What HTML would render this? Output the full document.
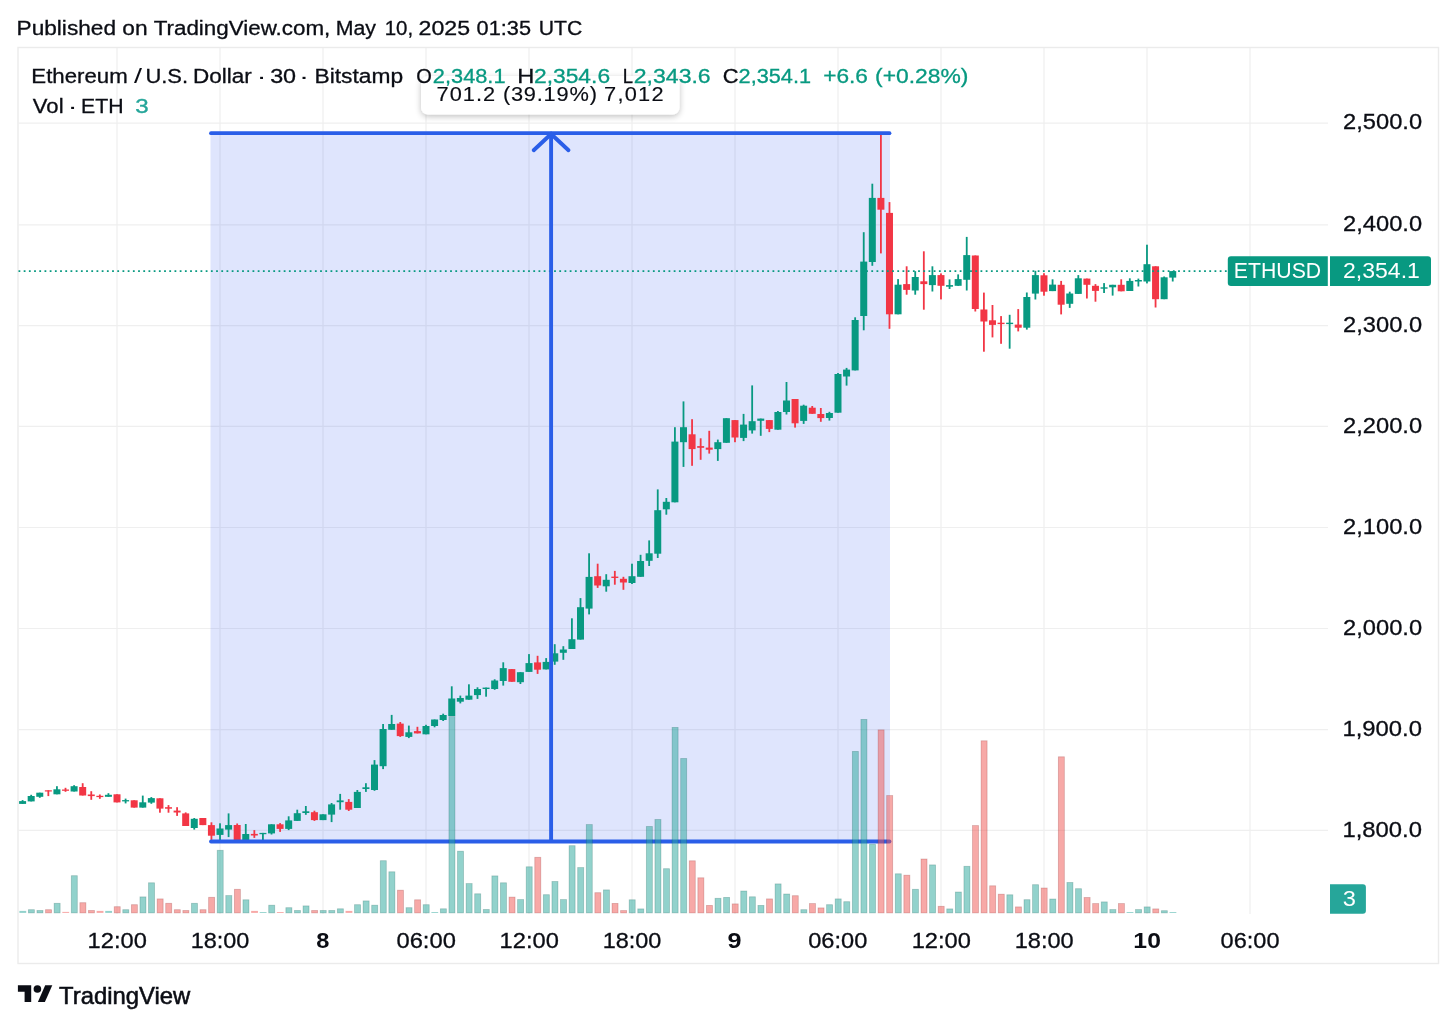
<!DOCTYPE html><html><head><meta charset="utf-8"><title>ETHUSD chart</title>
<style>html,body{margin:0;padding:0;background:#fff}svg{display:block}text{font-family:"Liberation Sans",Arial,sans-serif}</style></head><body>
<svg width="1456" height="1026" viewBox="0 0 1456 1026">
<rect width="1456" height="1026" fill="#fff"/>
<rect x="18" y="47.5" width="1420.5" height="916" fill="#fff" stroke="#ebebeb" stroke-width="1.4"/>
<g stroke="#efefef" stroke-width="1.2">
<line x1="18.5" x2="1328" y1="123.1" y2="123.1"/>
<line x1="18.5" x2="1328" y1="224.8" y2="224.8"/>
<line x1="18.5" x2="1328" y1="325.7" y2="325.7"/>
<line x1="18.5" x2="1328" y1="426.4" y2="426.4"/>
<line x1="18.5" x2="1328" y1="527.5" y2="527.5"/>
<line x1="18.5" x2="1328" y1="628.5" y2="628.5"/>
<line x1="18.5" x2="1328" y1="729.7" y2="729.7"/>
<line x1="18.5" x2="1328" y1="830.4" y2="830.4"/>
<line x1="117.0" x2="117.0" y1="48" y2="914"/>
<line x1="220.0" x2="220.0" y1="48" y2="914"/>
<line x1="323.0" x2="323.0" y1="48" y2="914"/>
<line x1="426.0" x2="426.0" y1="48" y2="914"/>
<line x1="529.0" x2="529.0" y1="48" y2="914"/>
<line x1="632.0" x2="632.0" y1="48" y2="914"/>
<line x1="735.0" x2="735.0" y1="48" y2="914"/>
<line x1="838.0" x2="838.0" y1="48" y2="914"/>
<line x1="941.0" x2="941.0" y1="48" y2="914"/>
<line x1="1044.0" x2="1044.0" y1="48" y2="914"/>
<line x1="1147.0" x2="1147.0" y1="48" y2="914"/>
<line x1="1250.0" x2="1250.0" y1="48" y2="914"/>
</g>
<rect x="210.5" y="133" width="679.5" height="708.5" fill="#2850f0" fill-opacity="0.15"/>
<g>
<rect x="21.70" y="800.1" width="1.8" height="3.8" fill="#089981"/>
<rect x="19.10" y="801.1" width="7.0" height="2.8" fill="#089981"/>
<rect x="30.28" y="794.8" width="1.8" height="6.6" fill="#089981"/>
<rect x="27.68" y="796.0" width="7.0" height="5.4" fill="#089981"/>
<rect x="38.87" y="792.7" width="1.8" height="5.1" fill="#089981"/>
<rect x="36.27" y="792.7" width="7.0" height="4.1" fill="#089981"/>
<rect x="47.45" y="790.3" width="1.8" height="5.8" fill="#F23645"/>
<rect x="44.85" y="790.3" width="7.0" height="1.2" fill="#F23645"/>
<rect x="56.03" y="786.2" width="1.8" height="8.1" fill="#089981"/>
<rect x="53.43" y="789.3" width="7.0" height="5.0" fill="#089981"/>
<rect x="64.61" y="787.8" width="1.8" height="4.0" fill="#F23645"/>
<rect x="62.02" y="789.5" width="7.0" height="1.3" fill="#F23645"/>
<rect x="73.20" y="785.2" width="1.8" height="6.3" fill="#089981"/>
<rect x="70.60" y="786.2" width="7.0" height="5.3" fill="#089981"/>
<rect x="81.78" y="783.2" width="1.8" height="12.3" fill="#F23645"/>
<rect x="79.18" y="787.0" width="7.0" height="8.5" fill="#F23645"/>
<rect x="90.36" y="791.2" width="1.8" height="8.6" fill="#F23645"/>
<rect x="87.76" y="794.5" width="7.0" height="1.6" fill="#F23645"/>
<rect x="98.95" y="794.5" width="1.8" height="4.3" fill="#F23645"/>
<rect x="96.35" y="795.8" width="7.0" height="1.3" fill="#F23645"/>
<rect x="107.53" y="793.2" width="1.8" height="3.6" fill="#089981"/>
<rect x="104.93" y="794.8" width="7.0" height="2.0" fill="#089981"/>
<rect x="116.11" y="794.3" width="1.8" height="8.1" fill="#F23645"/>
<rect x="113.51" y="794.3" width="7.0" height="8.1" fill="#F23645"/>
<rect x="124.70" y="798.6" width="1.8" height="4.8" fill="#089981"/>
<rect x="122.10" y="800.1" width="7.0" height="1.3" fill="#089981"/>
<rect x="133.28" y="800.3" width="1.8" height="7.3" fill="#F23645"/>
<rect x="130.68" y="800.3" width="7.0" height="7.3" fill="#F23645"/>
<rect x="141.86" y="795.6" width="1.8" height="12.0" fill="#089981"/>
<rect x="139.26" y="802.3" width="7.0" height="5.3" fill="#089981"/>
<rect x="150.44" y="797.1" width="1.8" height="6.7" fill="#089981"/>
<rect x="147.84" y="798.1" width="7.0" height="4.5" fill="#089981"/>
<rect x="159.03" y="798.3" width="1.8" height="14.4" fill="#F23645"/>
<rect x="156.43" y="798.3" width="7.0" height="10.3" fill="#F23645"/>
<rect x="167.61" y="805.1" width="1.8" height="7.6" fill="#F23645"/>
<rect x="165.01" y="807.2" width="7.0" height="1.5" fill="#F23645"/>
<rect x="176.19" y="807.2" width="1.8" height="8.7" fill="#F23645"/>
<rect x="173.59" y="810.6" width="7.0" height="1.9" fill="#F23645"/>
<rect x="184.78" y="812.4" width="1.8" height="13.6" fill="#F23645"/>
<rect x="182.18" y="813.4" width="7.0" height="12.6" fill="#F23645"/>
<rect x="193.36" y="818.0" width="1.8" height="11.6" fill="#089981"/>
<rect x="190.76" y="818.8" width="7.0" height="9.2" fill="#089981"/>
<rect x="201.94" y="818.0" width="1.8" height="7.1" fill="#F23645"/>
<rect x="199.34" y="818.0" width="7.0" height="7.1" fill="#F23645"/>
<rect x="210.53" y="822.3" width="1.8" height="17.6" fill="#F23645"/>
<rect x="207.93" y="825.1" width="7.0" height="10.6" fill="#F23645"/>
<rect x="219.11" y="823.3" width="1.8" height="17.4" fill="#089981"/>
<rect x="216.51" y="828.5" width="7.0" height="6.4" fill="#089981"/>
<rect x="227.69" y="813.4" width="1.8" height="23.7" fill="#089981"/>
<rect x="225.09" y="825.1" width="7.0" height="4.5" fill="#089981"/>
<rect x="236.28" y="823.5" width="1.8" height="17.2" fill="#F23645"/>
<rect x="233.68" y="825.0" width="7.0" height="15.7" fill="#F23645"/>
<rect x="244.86" y="824.0" width="1.8" height="17.2" fill="#089981"/>
<rect x="242.26" y="834.0" width="7.0" height="7.2" fill="#089981"/>
<rect x="253.44" y="830.1" width="1.8" height="7.8" fill="#F23645"/>
<rect x="250.84" y="833.9" width="7.0" height="1.6" fill="#F23645"/>
<rect x="262.02" y="832.9" width="1.8" height="7.9" fill="#089981"/>
<rect x="259.42" y="832.9" width="7.0" height="1.3" fill="#089981"/>
<rect x="270.61" y="824.3" width="1.8" height="10.2" fill="#089981"/>
<rect x="268.01" y="824.3" width="7.0" height="9.1" fill="#089981"/>
<rect x="279.19" y="823.1" width="1.8" height="8.8" fill="#F23645"/>
<rect x="276.59" y="824.3" width="7.0" height="4.6" fill="#F23645"/>
<rect x="287.77" y="816.3" width="1.8" height="13.8" fill="#089981"/>
<rect x="285.17" y="820.4" width="7.0" height="8.5" fill="#089981"/>
<rect x="296.36" y="809.7" width="1.8" height="11.2" fill="#089981"/>
<rect x="293.76" y="813.2" width="7.0" height="7.7" fill="#089981"/>
<rect x="304.94" y="806.0" width="1.8" height="8.8" fill="#089981"/>
<rect x="302.34" y="811.3" width="7.0" height="1.7" fill="#089981"/>
<rect x="313.52" y="810.7" width="1.8" height="10.2" fill="#F23645"/>
<rect x="310.92" y="812.2" width="7.0" height="7.9" fill="#F23645"/>
<rect x="322.11" y="814.3" width="1.8" height="5.8" fill="#089981"/>
<rect x="319.51" y="814.3" width="7.0" height="5.8" fill="#089981"/>
<rect x="330.69" y="803.0" width="1.8" height="19.1" fill="#089981"/>
<rect x="328.09" y="804.4" width="7.0" height="10.2" fill="#089981"/>
<rect x="339.27" y="793.9" width="1.8" height="15.8" fill="#089981"/>
<rect x="336.67" y="800.4" width="7.0" height="1.8" fill="#089981"/>
<rect x="347.85" y="799.1" width="1.8" height="11.9" fill="#F23645"/>
<rect x="345.25" y="801.9" width="7.0" height="7.8" fill="#F23645"/>
<rect x="356.44" y="790.0" width="1.8" height="18.0" fill="#089981"/>
<rect x="353.84" y="791.9" width="7.0" height="16.1" fill="#089981"/>
<rect x="365.02" y="783.2" width="1.8" height="8.7" fill="#089981"/>
<rect x="362.42" y="787.3" width="7.0" height="1.7" fill="#089981"/>
<rect x="373.60" y="760.1" width="1.8" height="30.7" fill="#089981"/>
<rect x="371.00" y="764.6" width="7.0" height="25.4" fill="#089981"/>
<rect x="382.19" y="724.0" width="1.8" height="45.1" fill="#089981"/>
<rect x="379.59" y="729.0" width="7.0" height="37.2" fill="#089981"/>
<rect x="390.77" y="714.9" width="1.8" height="14.9" fill="#089981"/>
<rect x="388.17" y="724.0" width="7.0" height="5.8" fill="#089981"/>
<rect x="399.35" y="722.0" width="1.8" height="14.9" fill="#F23645"/>
<rect x="396.75" y="723.6" width="7.0" height="12.5" fill="#F23645"/>
<rect x="407.94" y="725.6" width="1.8" height="12.5" fill="#089981"/>
<rect x="405.34" y="732.3" width="7.0" height="4.6" fill="#089981"/>
<rect x="416.52" y="726.8" width="1.8" height="6.6" fill="#F23645"/>
<rect x="413.92" y="731.1" width="7.0" height="2.3" fill="#F23645"/>
<rect x="425.10" y="724.8" width="1.8" height="9.5" fill="#089981"/>
<rect x="422.50" y="726.0" width="7.0" height="8.3" fill="#089981"/>
<rect x="433.68" y="719.5" width="1.8" height="7.8" fill="#089981"/>
<rect x="431.08" y="719.5" width="7.0" height="6.5" fill="#089981"/>
<rect x="442.27" y="713.7" width="1.8" height="7.3" fill="#089981"/>
<rect x="439.67" y="715.0" width="7.0" height="5.0" fill="#089981"/>
<rect x="450.85" y="686.3" width="1.8" height="29.7" fill="#089981"/>
<rect x="448.25" y="698.5" width="7.0" height="17.5" fill="#089981"/>
<rect x="459.43" y="695.6" width="1.8" height="7.8" fill="#089981"/>
<rect x="456.83" y="698.0" width="7.0" height="3.7" fill="#089981"/>
<rect x="468.02" y="684.3" width="1.8" height="15.4" fill="#089981"/>
<rect x="465.42" y="695.6" width="7.0" height="4.1" fill="#089981"/>
<rect x="476.60" y="687.3" width="1.8" height="11.6" fill="#089981"/>
<rect x="474.00" y="689.0" width="7.0" height="6.1" fill="#089981"/>
<rect x="485.18" y="687.6" width="1.8" height="9.1" fill="#089981"/>
<rect x="482.58" y="687.6" width="7.0" height="1.4" fill="#089981"/>
<rect x="493.77" y="679.3" width="1.8" height="10.5" fill="#089981"/>
<rect x="491.17" y="680.5" width="7.0" height="8.5" fill="#089981"/>
<rect x="502.35" y="662.3" width="1.8" height="23.3" fill="#089981"/>
<rect x="499.75" y="668.1" width="7.0" height="12.9" fill="#089981"/>
<rect x="510.93" y="669.1" width="1.8" height="12.7" fill="#F23645"/>
<rect x="508.33" y="669.1" width="7.0" height="12.7" fill="#F23645"/>
<rect x="519.51" y="672.2" width="1.8" height="11.8" fill="#089981"/>
<rect x="516.91" y="672.2" width="7.0" height="10.0" fill="#089981"/>
<rect x="528.10" y="654.1" width="1.8" height="17.8" fill="#089981"/>
<rect x="525.50" y="663.1" width="7.0" height="8.8" fill="#089981"/>
<rect x="536.68" y="655.8" width="1.8" height="18.1" fill="#F23645"/>
<rect x="534.08" y="662.4" width="7.0" height="7.3" fill="#F23645"/>
<rect x="545.26" y="658.1" width="1.8" height="11.3" fill="#089981"/>
<rect x="542.66" y="661.9" width="7.0" height="7.5" fill="#089981"/>
<rect x="553.85" y="644.2" width="1.8" height="20.6" fill="#089981"/>
<rect x="551.25" y="653.3" width="7.0" height="8.3" fill="#089981"/>
<rect x="562.43" y="646.2" width="1.8" height="13.6" fill="#089981"/>
<rect x="559.83" y="649.5" width="7.0" height="3.3" fill="#089981"/>
<rect x="571.01" y="618.3" width="1.8" height="30.7" fill="#089981"/>
<rect x="568.41" y="639.2" width="7.0" height="9.8" fill="#089981"/>
<rect x="579.60" y="598.1" width="1.8" height="41.5" fill="#089981"/>
<rect x="577.00" y="607.2" width="7.0" height="32.4" fill="#089981"/>
<rect x="588.18" y="553.3" width="1.8" height="61.1" fill="#089981"/>
<rect x="585.58" y="576.9" width="7.0" height="31.7" fill="#089981"/>
<rect x="596.76" y="563.7" width="1.8" height="24.2" fill="#F23645"/>
<rect x="594.16" y="576.2" width="7.0" height="9.3" fill="#F23645"/>
<rect x="605.34" y="574.2" width="1.8" height="17.5" fill="#089981"/>
<rect x="602.74" y="579.8" width="7.0" height="6.5" fill="#089981"/>
<rect x="613.93" y="570.9" width="1.8" height="13.8" fill="#F23645"/>
<rect x="611.33" y="576.6" width="7.0" height="1.4" fill="#F23645"/>
<rect x="622.51" y="576.8" width="1.8" height="13.0" fill="#F23645"/>
<rect x="619.91" y="578.8" width="7.0" height="3.7" fill="#F23645"/>
<rect x="631.09" y="563.7" width="1.8" height="20.3" fill="#089981"/>
<rect x="628.49" y="576.2" width="7.0" height="6.8" fill="#089981"/>
<rect x="639.68" y="554.8" width="1.8" height="22.0" fill="#089981"/>
<rect x="637.08" y="561.0" width="7.0" height="15.8" fill="#089981"/>
<rect x="648.26" y="540.4" width="1.8" height="25.6" fill="#089981"/>
<rect x="645.66" y="553.3" width="7.0" height="7.5" fill="#089981"/>
<rect x="656.84" y="489.4" width="1.8" height="68.6" fill="#089981"/>
<rect x="654.24" y="510.2" width="7.0" height="43.5" fill="#089981"/>
<rect x="665.43" y="498.0" width="1.8" height="16.7" fill="#089981"/>
<rect x="662.83" y="501.8" width="7.0" height="7.5" fill="#089981"/>
<rect x="674.01" y="427.2" width="1.8" height="75.1" fill="#089981"/>
<rect x="671.41" y="441.6" width="7.0" height="60.7" fill="#089981"/>
<rect x="682.59" y="401.4" width="1.8" height="65.5" fill="#089981"/>
<rect x="679.99" y="427.2" width="7.0" height="15.0" fill="#089981"/>
<rect x="691.17" y="419.2" width="1.8" height="46.6" fill="#F23645"/>
<rect x="688.57" y="434.3" width="7.0" height="14.8" fill="#F23645"/>
<rect x="699.76" y="438.3" width="1.8" height="21.5" fill="#F23645"/>
<rect x="697.16" y="446.1" width="7.0" height="1.7" fill="#F23645"/>
<rect x="708.34" y="430.8" width="1.8" height="22.8" fill="#F23645"/>
<rect x="705.74" y="447.6" width="7.0" height="2.1" fill="#F23645"/>
<rect x="716.92" y="439.6" width="1.8" height="21.3" fill="#089981"/>
<rect x="714.32" y="442.2" width="7.0" height="6.9" fill="#089981"/>
<rect x="725.51" y="418.2" width="1.8" height="24.6" fill="#089981"/>
<rect x="722.91" y="418.2" width="7.0" height="24.6" fill="#089981"/>
<rect x="734.09" y="420.1" width="1.8" height="22.1" fill="#F23645"/>
<rect x="731.49" y="420.1" width="7.0" height="17.4" fill="#F23645"/>
<rect x="742.67" y="413.9" width="1.8" height="27.2" fill="#089981"/>
<rect x="740.07" y="424.6" width="7.0" height="13.3" fill="#089981"/>
<rect x="751.26" y="385.4" width="1.8" height="48.2" fill="#089981"/>
<rect x="748.66" y="421.2" width="7.0" height="9.2" fill="#089981"/>
<rect x="759.84" y="418.6" width="1.8" height="17.2" fill="#089981"/>
<rect x="757.24" y="418.6" width="7.0" height="2.2" fill="#089981"/>
<rect x="768.42" y="420.1" width="1.8" height="12.0" fill="#F23645"/>
<rect x="765.82" y="420.1" width="7.0" height="8.8" fill="#F23645"/>
<rect x="777.00" y="411.0" width="1.8" height="18.7" fill="#089981"/>
<rect x="774.40" y="412.0" width="7.0" height="17.7" fill="#089981"/>
<rect x="785.59" y="382.0" width="1.8" height="32.5" fill="#089981"/>
<rect x="782.99" y="400.5" width="7.0" height="11.5" fill="#089981"/>
<rect x="794.17" y="399.0" width="1.8" height="28.6" fill="#F23645"/>
<rect x="791.57" y="399.0" width="7.0" height="24.3" fill="#F23645"/>
<rect x="802.75" y="404.7" width="1.8" height="19.2" fill="#089981"/>
<rect x="800.15" y="405.7" width="7.0" height="15.2" fill="#089981"/>
<rect x="811.34" y="406.0" width="1.8" height="7.8" fill="#F23645"/>
<rect x="808.74" y="407.7" width="7.0" height="6.1" fill="#F23645"/>
<rect x="819.92" y="408.0" width="1.8" height="13.8" fill="#F23645"/>
<rect x="817.32" y="414.0" width="7.0" height="4.1" fill="#F23645"/>
<rect x="828.50" y="411.8" width="1.8" height="8.8" fill="#089981"/>
<rect x="825.90" y="413.0" width="7.0" height="5.0" fill="#089981"/>
<rect x="837.09" y="373.0" width="1.8" height="39.7" fill="#089981"/>
<rect x="834.49" y="374.0" width="7.0" height="38.7" fill="#089981"/>
<rect x="845.67" y="367.9" width="1.8" height="17.7" fill="#089981"/>
<rect x="843.07" y="369.6" width="7.0" height="6.9" fill="#089981"/>
<rect x="854.25" y="317.3" width="1.8" height="53.1" fill="#089981"/>
<rect x="851.65" y="320.0" width="7.0" height="50.4" fill="#089981"/>
<rect x="862.83" y="232.2" width="1.8" height="98.1" fill="#089981"/>
<rect x="860.23" y="261.6" width="7.0" height="54.4" fill="#089981"/>
<rect x="871.42" y="183.7" width="1.8" height="82.1" fill="#089981"/>
<rect x="868.82" y="197.9" width="7.0" height="64.1" fill="#089981"/>
<rect x="880.00" y="133.9" width="1.8" height="119.5" fill="#F23645"/>
<rect x="877.40" y="197.9" width="7.0" height="11.8" fill="#F23645"/>
<rect x="888.58" y="202.1" width="1.8" height="126.7" fill="#F23645"/>
<rect x="885.98" y="212.9" width="7.0" height="101.4" fill="#F23645"/>
<rect x="897.17" y="279.1" width="1.8" height="35.2" fill="#089981"/>
<rect x="894.57" y="284.7" width="7.0" height="29.6" fill="#089981"/>
<rect x="905.75" y="266.3" width="1.8" height="28.4" fill="#F23645"/>
<rect x="903.15" y="284.1" width="7.0" height="5.8" fill="#F23645"/>
<rect x="914.33" y="271.2" width="1.8" height="23.5" fill="#089981"/>
<rect x="911.73" y="277.0" width="7.0" height="13.5" fill="#089981"/>
<rect x="922.92" y="251.3" width="1.8" height="58.4" fill="#F23645"/>
<rect x="920.32" y="281.3" width="7.0" height="2.8" fill="#F23645"/>
<rect x="931.50" y="266.3" width="1.8" height="25.2" fill="#089981"/>
<rect x="928.90" y="275.1" width="7.0" height="10.0" fill="#089981"/>
<rect x="940.08" y="273.4" width="1.8" height="26.0" fill="#F23645"/>
<rect x="937.48" y="275.1" width="7.0" height="10.7" fill="#F23645"/>
<rect x="948.66" y="279.4" width="1.8" height="9.6" fill="#089981"/>
<rect x="946.06" y="285.1" width="7.0" height="1.6" fill="#089981"/>
<rect x="957.25" y="274.4" width="1.8" height="11.4" fill="#089981"/>
<rect x="954.65" y="279.1" width="7.0" height="6.7" fill="#089981"/>
<rect x="965.83" y="236.9" width="1.8" height="53.6" fill="#089981"/>
<rect x="963.23" y="255.1" width="7.0" height="24.7" fill="#089981"/>
<rect x="974.41" y="255.5" width="1.8" height="56.0" fill="#F23645"/>
<rect x="971.81" y="255.5" width="7.0" height="53.5" fill="#F23645"/>
<rect x="983.00" y="292.6" width="1.8" height="59.1" fill="#F23645"/>
<rect x="980.40" y="309.5" width="7.0" height="12.0" fill="#F23645"/>
<rect x="991.58" y="305.0" width="1.8" height="32.4" fill="#F23645"/>
<rect x="988.98" y="320.3" width="7.0" height="4.6" fill="#F23645"/>
<rect x="1000.16" y="316.1" width="1.8" height="27.7" fill="#F23645"/>
<rect x="997.56" y="322.7" width="7.0" height="1.4" fill="#F23645"/>
<rect x="1008.75" y="314.8" width="1.8" height="33.9" fill="#089981"/>
<rect x="1006.15" y="322.7" width="7.0" height="1.4" fill="#089981"/>
<rect x="1017.33" y="309.1" width="1.8" height="22.3" fill="#F23645"/>
<rect x="1014.73" y="324.6" width="7.0" height="3.1" fill="#F23645"/>
<rect x="1025.91" y="292.5" width="1.8" height="37.1" fill="#089981"/>
<rect x="1023.31" y="297.0" width="7.0" height="30.7" fill="#089981"/>
<rect x="1034.49" y="270.8" width="1.8" height="28.7" fill="#089981"/>
<rect x="1031.89" y="275.1" width="7.0" height="18.5" fill="#089981"/>
<rect x="1043.08" y="273.2" width="1.8" height="22.5" fill="#F23645"/>
<rect x="1040.48" y="275.3" width="7.0" height="16.4" fill="#F23645"/>
<rect x="1051.66" y="279.3" width="1.8" height="11.8" fill="#089981"/>
<rect x="1049.06" y="284.6" width="7.0" height="6.5" fill="#089981"/>
<rect x="1060.24" y="280.9" width="1.8" height="33.5" fill="#F23645"/>
<rect x="1057.64" y="284.8" width="7.0" height="19.9" fill="#F23645"/>
<rect x="1068.83" y="291.7" width="1.8" height="16.2" fill="#089981"/>
<rect x="1066.23" y="293.5" width="7.0" height="10.3" fill="#089981"/>
<rect x="1077.41" y="275.1" width="1.8" height="18.8" fill="#089981"/>
<rect x="1074.81" y="278.3" width="7.0" height="15.6" fill="#089981"/>
<rect x="1085.99" y="278.6" width="1.8" height="19.9" fill="#F23645"/>
<rect x="1083.39" y="278.6" width="7.0" height="6.2" fill="#F23645"/>
<rect x="1094.57" y="284.1" width="1.8" height="17.6" fill="#F23645"/>
<rect x="1091.97" y="285.8" width="7.0" height="5.1" fill="#F23645"/>
<rect x="1103.16" y="283.1" width="1.8" height="9.9" fill="#089981"/>
<rect x="1100.56" y="287.3" width="7.0" height="1.4" fill="#089981"/>
<rect x="1111.74" y="284.8" width="1.8" height="10.8" fill="#089981"/>
<rect x="1109.14" y="284.8" width="7.0" height="2.5" fill="#089981"/>
<rect x="1120.32" y="279.3" width="1.8" height="12.0" fill="#F23645"/>
<rect x="1117.72" y="284.8" width="7.0" height="6.5" fill="#F23645"/>
<rect x="1128.91" y="278.3" width="1.8" height="12.7" fill="#089981"/>
<rect x="1126.31" y="280.9" width="7.0" height="10.1" fill="#089981"/>
<rect x="1137.49" y="278.6" width="1.8" height="7.9" fill="#089981"/>
<rect x="1134.89" y="280.0" width="7.0" height="1.5" fill="#089981"/>
<rect x="1146.07" y="244.7" width="1.8" height="38.7" fill="#089981"/>
<rect x="1143.47" y="264.2" width="7.0" height="17.3" fill="#089981"/>
<rect x="1154.66" y="266.3" width="1.8" height="41.2" fill="#F23645"/>
<rect x="1152.06" y="266.3" width="7.0" height="32.9" fill="#F23645"/>
<rect x="1163.24" y="276.5" width="1.8" height="22.7" fill="#089981"/>
<rect x="1160.64" y="277.3" width="7.0" height="21.9" fill="#089981"/>
<rect x="1171.82" y="271.1" width="1.8" height="10.4" fill="#089981"/>
<rect x="1169.22" y="271.1" width="7.0" height="6.5" fill="#089981"/>
</g>
<line x1="18.5" x2="1228" y1="271.1" y2="271.1" stroke="#089981" stroke-width="1.8" stroke-dasharray="1.8 3.4"/>
<g stroke="#2a5ee8" stroke-width="3.8" fill="none" stroke-linecap="round">
<line x1="211" x2="889.5" y1="133.2" y2="133.2"/>
<line x1="211" x2="889.5" y1="841.5" y2="841.5"/>
</g>
<g stroke="#2a5ee8" stroke-width="3.9" fill="none">
<line x1="551.1" x2="551.1" y1="134" y2="841"/>
<polyline points="533.7,150.2 551.1,134 568.5,150.2" stroke-linecap="round" stroke-linejoin="miter"/>
</g>
<g fill-opacity="0.5" stroke-opacity="0.28" stroke-width="0.8">
<rect x="19.40" y="910.9" width="6.8" height="2.0" fill="#26a69a" stroke="none"/>
<rect x="28.38" y="909.7" width="6.0" height="3.2" fill="#26a69a" stroke="#0a5a50" />
<rect x="36.97" y="910.5" width="6.0" height="2.4" fill="#26a69a" stroke="#0a5a50" />
<rect x="45.55" y="909.7" width="6.0" height="3.2" fill="#ef5350" stroke="#8a2020" />
<rect x="54.13" y="903.3" width="6.0" height="9.6" fill="#26a69a" stroke="#0a5a50" />
<rect x="62.32" y="911.9" width="6.8" height="1.0" fill="#ef5350" stroke="none"/>
<rect x="71.30" y="875.7" width="6.0" height="37.2" fill="#26a69a" stroke="#0a5a50" />
<rect x="79.88" y="902.7" width="6.0" height="10.2" fill="#ef5350" stroke="#8a2020" />
<rect x="88.46" y="910.5" width="6.0" height="2.4" fill="#ef5350" stroke="#8a2020" />
<rect x="96.65" y="910.9" width="6.8" height="2.0" fill="#ef5350" stroke="none"/>
<rect x="105.23" y="910.9" width="6.8" height="2.0" fill="#26a69a" stroke="none"/>
<rect x="114.21" y="906.7" width="6.0" height="6.2" fill="#ef5350" stroke="#8a2020" />
<rect x="122.80" y="909.7" width="6.0" height="3.2" fill="#26a69a" stroke="#0a5a50" />
<rect x="131.38" y="904.7" width="6.0" height="8.2" fill="#ef5350" stroke="#8a2020" />
<rect x="139.96" y="896.9" width="6.0" height="16.0" fill="#26a69a" stroke="#0a5a50" />
<rect x="148.54" y="882.8" width="6.0" height="30.1" fill="#26a69a" stroke="#0a5a50" />
<rect x="157.13" y="898.9" width="6.0" height="14.0" fill="#ef5350" stroke="#8a2020" />
<rect x="165.71" y="903.3" width="6.0" height="9.6" fill="#ef5350" stroke="#8a2020" />
<rect x="174.29" y="909.7" width="6.0" height="3.2" fill="#ef5350" stroke="#8a2020" />
<rect x="182.88" y="910.5" width="6.0" height="2.4" fill="#ef5350" stroke="#8a2020" />
<rect x="191.46" y="903.3" width="6.0" height="9.6" fill="#26a69a" stroke="#0a5a50" />
<rect x="200.04" y="909.7" width="6.0" height="3.2" fill="#ef5350" stroke="#8a2020" />
<rect x="208.63" y="897.3" width="6.0" height="15.6" fill="#ef5350" stroke="#8a2020" />
<rect x="217.21" y="850.3" width="6.0" height="62.6" fill="#26a69a" stroke="#0a5a50" />
<rect x="225.79" y="895.6" width="6.0" height="17.3" fill="#26a69a" stroke="#0a5a50" />
<rect x="234.38" y="889.3" width="6.0" height="23.6" fill="#ef5350" stroke="#8a2020" />
<rect x="242.96" y="899.8" width="6.0" height="13.1" fill="#26a69a" stroke="#0a5a50" />
<rect x="251.14" y="910.9" width="6.8" height="2.0" fill="#ef5350" stroke="none"/>
<rect x="259.72" y="912.0" width="6.8" height="0.9" fill="#26a69a" stroke="none"/>
<rect x="268.71" y="905.2" width="6.0" height="7.7" fill="#26a69a" stroke="#0a5a50" />
<rect x="276.89" y="912.0" width="6.8" height="0.9" fill="#ef5350" stroke="none"/>
<rect x="285.87" y="907.7" width="6.0" height="5.2" fill="#26a69a" stroke="#0a5a50" />
<rect x="294.46" y="910.5" width="6.0" height="2.4" fill="#26a69a" stroke="#0a5a50" />
<rect x="303.04" y="905.9" width="6.0" height="7.0" fill="#26a69a" stroke="#0a5a50" />
<rect x="311.62" y="910.5" width="6.0" height="2.4" fill="#ef5350" stroke="#8a2020" />
<rect x="320.21" y="910.5" width="6.0" height="2.4" fill="#26a69a" stroke="#0a5a50" />
<rect x="328.79" y="910.5" width="6.0" height="2.4" fill="#26a69a" stroke="#0a5a50" />
<rect x="337.37" y="908.8" width="6.0" height="4.1" fill="#26a69a" stroke="#0a5a50" />
<rect x="345.55" y="910.9" width="6.8" height="2.0" fill="#ef5350" stroke="none"/>
<rect x="354.54" y="904.7" width="6.0" height="8.2" fill="#26a69a" stroke="#0a5a50" />
<rect x="363.12" y="900.9" width="6.0" height="12.0" fill="#26a69a" stroke="#0a5a50" />
<rect x="371.70" y="905.2" width="6.0" height="7.7" fill="#26a69a" stroke="#0a5a50" />
<rect x="380.29" y="860.7" width="6.0" height="52.2" fill="#26a69a" stroke="#0a5a50" />
<rect x="388.87" y="871.8" width="6.0" height="41.1" fill="#26a69a" stroke="#0a5a50" />
<rect x="397.45" y="890.2" width="6.0" height="22.7" fill="#ef5350" stroke="#8a2020" />
<rect x="406.04" y="907.7" width="6.0" height="5.2" fill="#26a69a" stroke="#0a5a50" />
<rect x="414.62" y="899.8" width="6.0" height="13.1" fill="#ef5350" stroke="#8a2020" />
<rect x="423.20" y="904.7" width="6.0" height="8.2" fill="#26a69a" stroke="#0a5a50" />
<rect x="431.38" y="912.0" width="6.8" height="0.9" fill="#26a69a" stroke="none"/>
<rect x="440.37" y="908.8" width="6.0" height="4.1" fill="#26a69a" stroke="#0a5a50" />
<rect x="448.95" y="716.6" width="6.0" height="196.3" fill="#26a69a" stroke="#0a5a50" />
<rect x="457.53" y="851.2" width="6.0" height="61.7" fill="#26a69a" stroke="#0a5a50" />
<rect x="466.12" y="883.6" width="6.0" height="29.3" fill="#26a69a" stroke="#0a5a50" />
<rect x="474.70" y="893.8" width="6.0" height="19.1" fill="#26a69a" stroke="#0a5a50" />
<rect x="483.28" y="909.5" width="6.0" height="3.4" fill="#26a69a" stroke="#0a5a50" />
<rect x="491.87" y="875.9" width="6.0" height="37.0" fill="#26a69a" stroke="#0a5a50" />
<rect x="500.45" y="882.8" width="6.0" height="30.1" fill="#26a69a" stroke="#0a5a50" />
<rect x="509.03" y="897.1" width="6.0" height="15.8" fill="#ef5350" stroke="#8a2020" />
<rect x="517.61" y="899.6" width="6.0" height="13.3" fill="#26a69a" stroke="#0a5a50" />
<rect x="526.20" y="866.8" width="6.0" height="46.1" fill="#26a69a" stroke="#0a5a50" />
<rect x="534.78" y="857.3" width="6.0" height="55.6" fill="#ef5350" stroke="#8a2020" />
<rect x="543.36" y="894.7" width="6.0" height="18.2" fill="#26a69a" stroke="#0a5a50" />
<rect x="551.95" y="881.5" width="6.0" height="31.4" fill="#26a69a" stroke="#0a5a50" />
<rect x="560.53" y="899.6" width="6.0" height="13.3" fill="#26a69a" stroke="#0a5a50" />
<rect x="569.11" y="845.7" width="6.0" height="67.2" fill="#26a69a" stroke="#0a5a50" />
<rect x="577.70" y="867.6" width="6.0" height="45.3" fill="#26a69a" stroke="#0a5a50" />
<rect x="586.28" y="824.6" width="6.0" height="88.3" fill="#26a69a" stroke="#0a5a50" />
<rect x="594.86" y="892.7" width="6.0" height="20.2" fill="#ef5350" stroke="#8a2020" />
<rect x="603.44" y="889.9" width="6.0" height="23.0" fill="#26a69a" stroke="#0a5a50" />
<rect x="612.03" y="903.4" width="6.0" height="9.5" fill="#ef5350" stroke="#8a2020" />
<rect x="620.61" y="910.6" width="6.0" height="2.3" fill="#ef5350" stroke="#8a2020" />
<rect x="629.19" y="899.8" width="6.0" height="13.1" fill="#26a69a" stroke="#0a5a50" />
<rect x="637.78" y="908.9" width="6.0" height="4.0" fill="#26a69a" stroke="#0a5a50" />
<rect x="646.36" y="826.5" width="6.0" height="86.4" fill="#26a69a" stroke="#0a5a50" />
<rect x="654.94" y="819.5" width="6.0" height="93.4" fill="#26a69a" stroke="#0a5a50" />
<rect x="663.53" y="868.7" width="6.0" height="44.2" fill="#26a69a" stroke="#0a5a50" />
<rect x="672.11" y="727.4" width="6.0" height="185.5" fill="#26a69a" stroke="#0a5a50" />
<rect x="680.69" y="758.5" width="6.0" height="154.4" fill="#26a69a" stroke="#0a5a50" />
<rect x="689.27" y="860.8" width="6.0" height="52.1" fill="#ef5350" stroke="#8a2020" />
<rect x="697.86" y="877.8" width="6.0" height="35.1" fill="#ef5350" stroke="#8a2020" />
<rect x="706.44" y="905.4" width="6.0" height="7.5" fill="#ef5350" stroke="#8a2020" />
<rect x="715.02" y="898.3" width="6.0" height="14.6" fill="#26a69a" stroke="#0a5a50" />
<rect x="723.61" y="897.4" width="6.0" height="15.5" fill="#26a69a" stroke="#0a5a50" />
<rect x="732.19" y="903.9" width="6.0" height="9.0" fill="#ef5350" stroke="#8a2020" />
<rect x="740.77" y="891.0" width="6.0" height="21.9" fill="#26a69a" stroke="#0a5a50" />
<rect x="749.36" y="896.8" width="6.0" height="16.1" fill="#26a69a" stroke="#0a5a50" />
<rect x="757.94" y="905.4" width="6.0" height="7.5" fill="#26a69a" stroke="#0a5a50" />
<rect x="766.52" y="898.9" width="6.0" height="14.0" fill="#ef5350" stroke="#8a2020" />
<rect x="775.10" y="883.9" width="6.0" height="29.0" fill="#26a69a" stroke="#0a5a50" />
<rect x="783.69" y="894.0" width="6.0" height="18.9" fill="#26a69a" stroke="#0a5a50" />
<rect x="792.27" y="895.7" width="6.0" height="17.2" fill="#ef5350" stroke="#8a2020" />
<rect x="800.85" y="909.7" width="6.0" height="3.2" fill="#26a69a" stroke="#0a5a50" />
<rect x="809.44" y="903.6" width="6.0" height="9.3" fill="#ef5350" stroke="#8a2020" />
<rect x="818.02" y="907.9" width="6.0" height="5.0" fill="#ef5350" stroke="#8a2020" />
<rect x="826.60" y="904.7" width="6.0" height="8.2" fill="#26a69a" stroke="#0a5a50" />
<rect x="835.19" y="898.9" width="6.0" height="14.0" fill="#26a69a" stroke="#0a5a50" />
<rect x="843.77" y="901.7" width="6.0" height="11.2" fill="#26a69a" stroke="#0a5a50" />
<rect x="852.35" y="751.4" width="6.0" height="161.5" fill="#26a69a" stroke="#0a5a50" />
<rect x="860.93" y="719.4" width="6.0" height="193.5" fill="#26a69a" stroke="#0a5a50" />
<rect x="869.52" y="844.3" width="6.0" height="68.6" fill="#26a69a" stroke="#0a5a50" />
<rect x="878.10" y="729.9" width="6.0" height="183.0" fill="#ef5350" stroke="#8a2020" />
<rect x="886.68" y="795.6" width="6.0" height="117.3" fill="#ef5350" stroke="#8a2020" />
<rect x="895.27" y="873.8" width="6.0" height="39.1" fill="#26a69a" stroke="#0a5a50" />
<rect x="903.85" y="875.2" width="6.0" height="37.7" fill="#ef5350" stroke="#8a2020" />
<rect x="912.43" y="889.3" width="6.0" height="23.6" fill="#26a69a" stroke="#0a5a50" />
<rect x="921.02" y="859.0" width="6.0" height="53.9" fill="#ef5350" stroke="#8a2020" />
<rect x="929.60" y="864.9" width="6.0" height="48.0" fill="#26a69a" stroke="#0a5a50" />
<rect x="938.18" y="906.3" width="6.0" height="6.6" fill="#ef5350" stroke="#8a2020" />
<rect x="946.76" y="908.9" width="6.0" height="4.0" fill="#26a69a" stroke="#0a5a50" />
<rect x="955.35" y="892.0" width="6.0" height="20.9" fill="#26a69a" stroke="#0a5a50" />
<rect x="963.93" y="866.3" width="6.0" height="46.6" fill="#26a69a" stroke="#0a5a50" />
<rect x="972.51" y="825.6" width="6.0" height="87.3" fill="#ef5350" stroke="#8a2020" />
<rect x="981.10" y="740.8" width="6.0" height="172.1" fill="#ef5350" stroke="#8a2020" />
<rect x="989.68" y="885.8" width="6.0" height="27.1" fill="#ef5350" stroke="#8a2020" />
<rect x="998.26" y="894.2" width="6.0" height="18.7" fill="#ef5350" stroke="#8a2020" />
<rect x="1006.85" y="894.8" width="6.0" height="18.1" fill="#26a69a" stroke="#0a5a50" />
<rect x="1015.43" y="906.9" width="6.0" height="6.0" fill="#ef5350" stroke="#8a2020" />
<rect x="1024.01" y="899.7" width="6.0" height="13.2" fill="#26a69a" stroke="#0a5a50" />
<rect x="1032.59" y="884.7" width="6.0" height="28.2" fill="#26a69a" stroke="#0a5a50" />
<rect x="1041.18" y="888.0" width="6.0" height="24.9" fill="#ef5350" stroke="#8a2020" />
<rect x="1049.76" y="899.0" width="6.0" height="13.9" fill="#26a69a" stroke="#0a5a50" />
<rect x="1058.34" y="756.8" width="6.0" height="156.1" fill="#ef5350" stroke="#8a2020" />
<rect x="1066.93" y="882.5" width="6.0" height="30.4" fill="#26a69a" stroke="#0a5a50" />
<rect x="1075.51" y="888.7" width="6.0" height="24.2" fill="#26a69a" stroke="#0a5a50" />
<rect x="1084.09" y="897.5" width="6.0" height="15.4" fill="#ef5350" stroke="#8a2020" />
<rect x="1092.67" y="903.6" width="6.0" height="9.3" fill="#ef5350" stroke="#8a2020" />
<rect x="1101.26" y="901.9" width="6.0" height="11.0" fill="#26a69a" stroke="#0a5a50" />
<rect x="1109.84" y="909.6" width="6.0" height="3.3" fill="#26a69a" stroke="#0a5a50" />
<rect x="1118.42" y="903.6" width="6.0" height="9.3" fill="#ef5350" stroke="#8a2020" />
<rect x="1126.61" y="912.0" width="6.8" height="0.9" fill="#26a69a" stroke="none"/>
<rect x="1135.59" y="909.6" width="6.0" height="3.3" fill="#26a69a" stroke="#0a5a50" />
<rect x="1144.17" y="906.9" width="6.0" height="6.0" fill="#26a69a" stroke="#0a5a50" />
<rect x="1152.76" y="908.9" width="6.0" height="4.0" fill="#ef5350" stroke="#8a2020" />
<rect x="1161.34" y="910.7" width="6.0" height="2.2" fill="#26a69a" stroke="#0a5a50" />
<rect x="1169.52" y="912.0" width="6.8" height="0.9" fill="#26a69a" stroke="none"/>
</g>
<defs><filter id="sh" x="-10%" y="-30%" width="120%" height="170%"><feGaussianBlur in="SourceAlpha" stdDeviation="3"/><feOffset dy="2"/><feComponentTransfer><feFuncA type="linear" slope="0.25"/></feComponentTransfer><feMerge><feMergeNode/><feMergeNode in="SourceGraphic"/></feMerge></filter></defs>
<rect x="421" y="76" width="258.5" height="38.5" rx="7" fill="#fff" filter="url(#sh)"/>
<text transform="translate(16.55,35.1) scale(1.0,1)" font-size="20" fill="#0b0d14" stroke="#0b0d14" stroke-width="0.3" font-weight="normal" text-anchor="start" textLength="99.42" lengthAdjust="spacingAndGlyphs">Published</text>
<text transform="translate(122.27,35.1) scale(1.0,1)" font-size="20" fill="#0b0d14" stroke="#0b0d14" stroke-width="0.3" font-weight="normal" text-anchor="start" textLength="25.27" lengthAdjust="spacingAndGlyphs">on</text>
<text transform="translate(153.65,35.1) scale(1.0,1)" font-size="20" fill="#0b0d14" stroke="#0b0d14" stroke-width="0.3" font-weight="normal" text-anchor="start" textLength="176.64" lengthAdjust="spacingAndGlyphs">TradingView.com,</text>
<text transform="translate(335.65,35.1) scale(1.0,1)" font-size="20" fill="#0b0d14" stroke="#0b0d14" stroke-width="0.3" font-weight="normal" text-anchor="start" textLength="40.28" lengthAdjust="spacingAndGlyphs">May</text>
<text transform="translate(384.65,35.1) scale(1.0,1)" font-size="20" fill="#0b0d14" stroke="#0b0d14" stroke-width="0.3" font-weight="normal" text-anchor="start" textLength="28.47" lengthAdjust="spacingAndGlyphs">10,</text>
<text transform="translate(418.61,35.1) scale(1.0,1)" font-size="20" fill="#0b0d14" stroke="#0b0d14" stroke-width="0.3" font-weight="normal" text-anchor="start" textLength="51.47" lengthAdjust="spacingAndGlyphs">2025</text>
<text transform="translate(476.62,35.1) scale(1.0,1)" font-size="20" fill="#0b0d14" stroke="#0b0d14" stroke-width="0.3" font-weight="normal" text-anchor="start" textLength="54.38" lengthAdjust="spacingAndGlyphs">01:35</text>
<text transform="translate(538.77,35.1) scale(1.0,1)" font-size="20" fill="#0b0d14" stroke="#0b0d14" stroke-width="0.3" font-weight="normal" text-anchor="start" textLength="43.53" lengthAdjust="spacingAndGlyphs">UTC</text>
<text transform="translate(31.37,83.3) scale(1.0,1)" font-size="20" fill="#0b0d14" stroke="#0b0d14" stroke-width="0.3" font-weight="normal" text-anchor="start" textLength="96.35" lengthAdjust="spacingAndGlyphs">Ethereum</text>
<text transform="translate(133.89,83.3) scale(1.0,1)" font-size="20" fill="#0b0d14" stroke="#0b0d14" stroke-width="0" font-weight="normal" text-anchor="start" textLength="8.02" lengthAdjust="spacingAndGlyphs">/</text>
<text transform="translate(145.41,83.3) scale(1.0,1)" font-size="20" fill="#0b0d14" stroke="#0b0d14" stroke-width="0.3" font-weight="normal" text-anchor="start" textLength="42.60" lengthAdjust="spacingAndGlyphs">U.S.</text>
<text transform="translate(193.08,83.3) scale(1.0,1)" font-size="20" fill="#0b0d14" stroke="#0b0d14" stroke-width="0.3" font-weight="normal" text-anchor="start" textLength="58.77" lengthAdjust="spacingAndGlyphs">Dollar</text>
<text transform="translate(256.42,83.3) scale(1.0,1)" font-size="20" fill="#0b0d14" stroke="#0b0d14" stroke-width="0" font-weight="normal" text-anchor="start" textLength="10.13" lengthAdjust="spacingAndGlyphs">·</text>
<text transform="translate(270.14,83.3) scale(1.0,1)" font-size="20" fill="#0b0d14" stroke="#0b0d14" stroke-width="0.3" font-weight="normal" text-anchor="start" textLength="25.96" lengthAdjust="spacingAndGlyphs">30</text>
<text transform="translate(298.65,83.3) scale(1.0,1)" font-size="20" fill="#0b0d14" stroke="#0b0d14" stroke-width="0" font-weight="normal" text-anchor="start" textLength="10.57" lengthAdjust="spacingAndGlyphs">·</text>
<text transform="translate(314.46,83.3) scale(1.0,1)" font-size="20" fill="#0b0d14" stroke="#0b0d14" stroke-width="0.3" font-weight="normal" text-anchor="start" textLength="88.64" lengthAdjust="spacingAndGlyphs">Bitstamp</text>
<text transform="translate(416.37,83.3) scale(1.0,1)" font-size="20" fill="#0b0d14" stroke="#0b0d14" stroke-width="0.3" font-weight="normal" text-anchor="start" textLength="15.56" lengthAdjust="spacingAndGlyphs">O</text>
<text transform="translate(432.86,83.3) scale(1.0,1)" font-size="20" fill="#089981" stroke="#089981" stroke-width="0.3" font-weight="normal" text-anchor="start" textLength="72.65" lengthAdjust="spacingAndGlyphs">2,348.1</text>
<text transform="translate(517.37,83.3) scale(1.0,1)" font-size="20" fill="#0b0d14" stroke="#0b0d14" stroke-width="0.3" font-weight="normal" text-anchor="start" textLength="17.09" lengthAdjust="spacingAndGlyphs">H</text>
<text transform="translate(533.99,83.3) scale(1.0,1)" font-size="20" fill="#089981" stroke="#089981" stroke-width="0.3" font-weight="normal" text-anchor="start" textLength="76.08" lengthAdjust="spacingAndGlyphs">2,354.6</text>
<text transform="translate(622.71,83.3) scale(1.0,1)" font-size="20" fill="#0b0d14" stroke="#0b0d14" stroke-width="0.3" font-weight="normal" text-anchor="start" textLength="10.27" lengthAdjust="spacingAndGlyphs">L</text>
<text transform="translate(633.77,83.3) scale(1.0,1)" font-size="20" fill="#089981" stroke="#089981" stroke-width="0.3" font-weight="normal" text-anchor="start" textLength="76.90" lengthAdjust="spacingAndGlyphs">2,343.6</text>
<text transform="translate(722.81,83.3) scale(1.0,1)" font-size="20" fill="#0b0d14" stroke="#0b0d14" stroke-width="0.3" font-weight="normal" text-anchor="start" textLength="15.79" lengthAdjust="spacingAndGlyphs">C</text>
<text transform="translate(738.60,83.3) scale(1.0,1)" font-size="20" fill="#089981" stroke="#089981" stroke-width="0.3" font-weight="normal" text-anchor="start" textLength="72.42" lengthAdjust="spacingAndGlyphs">2,354.1</text>
<text transform="translate(823.16,83.3) scale(1.0,1)" font-size="20" fill="#089981" stroke="#089981" stroke-width="0.3" font-weight="normal" text-anchor="start" textLength="44.77" lengthAdjust="spacingAndGlyphs">+6.6</text>
<text transform="translate(875.06,83.3) scale(1.0,1)" font-size="20" fill="#089981" stroke="#089981" stroke-width="0.3" font-weight="normal" text-anchor="start" textLength="93.38" lengthAdjust="spacingAndGlyphs">(+0.28%)</text>
<text transform="translate(32.87,113.2) scale(1.0,1)" font-size="20" fill="#0b0d14" stroke="#0b0d14" stroke-width="0.3" font-weight="normal" text-anchor="start" textLength="30.68" lengthAdjust="spacingAndGlyphs">Vol</text>
<text transform="translate(67.56,113.2) scale(1.0,1)" font-size="20" fill="#0b0d14" stroke="#0b0d14" stroke-width="0" font-weight="normal" text-anchor="start" textLength="10.20" lengthAdjust="spacingAndGlyphs">·</text>
<text transform="translate(81.00,113.2) scale(1.0,1)" font-size="20" fill="#0b0d14" stroke="#0b0d14" stroke-width="0.3" font-weight="normal" text-anchor="start" textLength="42.48" lengthAdjust="spacingAndGlyphs">ETH</text>
<text transform="translate(135.16,113.2) scale(1.0,1)" font-size="20" fill="#26a69a" stroke="#26a69a" stroke-width="0.3" font-weight="normal" text-anchor="start" textLength="13.47" lengthAdjust="spacingAndGlyphs">3</text>
<text transform="translate(436.53,101.0) scale(1.09,1)" font-size="20" fill="#0b0d14" stroke="#0b0d14" stroke-width="0.15" font-weight="normal" text-anchor="start" textLength="53.80" lengthAdjust="spacing">701.2</text>
<text transform="translate(502.89,101.0) scale(1.09,1)" font-size="20" fill="#0b0d14" stroke="#0b0d14" stroke-width="0.15" font-weight="normal" text-anchor="start" textLength="86.24" lengthAdjust="spacing">(39.19%)</text>
<text transform="translate(604.10,101.0) scale(1.09,1)" font-size="20" fill="#0b0d14" stroke="#0b0d14" stroke-width="0.15" font-weight="normal" text-anchor="start" textLength="54.61" lengthAdjust="spacing">7,012</text>
<text transform="translate(1343.09,129.3) scale(1.0,1)" font-size="22" fill="#0b0d14" stroke="#0b0d14" stroke-width="0.3" font-weight="normal" text-anchor="start" textLength="78.99" lengthAdjust="spacingAndGlyphs">2,500.0</text>
<text transform="translate(1343.09,231.0) scale(1.0,1)" font-size="22" fill="#0b0d14" stroke="#0b0d14" stroke-width="0.3" font-weight="normal" text-anchor="start" textLength="78.99" lengthAdjust="spacingAndGlyphs">2,400.0</text>
<text transform="translate(1343.09,331.9) scale(1.0,1)" font-size="22" fill="#0b0d14" stroke="#0b0d14" stroke-width="0.3" font-weight="normal" text-anchor="start" textLength="78.99" lengthAdjust="spacingAndGlyphs">2,300.0</text>
<text transform="translate(1343.09,432.6) scale(1.0,1)" font-size="22" fill="#0b0d14" stroke="#0b0d14" stroke-width="0.3" font-weight="normal" text-anchor="start" textLength="78.99" lengthAdjust="spacingAndGlyphs">2,200.0</text>
<text transform="translate(1343.09,533.7) scale(1.0,1)" font-size="22" fill="#0b0d14" stroke="#0b0d14" stroke-width="0.3" font-weight="normal" text-anchor="start" textLength="78.99" lengthAdjust="spacingAndGlyphs">2,100.0</text>
<text transform="translate(1343.09,634.7) scale(1.0,1)" font-size="22" fill="#0b0d14" stroke="#0b0d14" stroke-width="0.3" font-weight="normal" text-anchor="start" textLength="78.99" lengthAdjust="spacingAndGlyphs">2,000.0</text>
<text transform="translate(1342.45,735.9) scale(1.0,1)" font-size="22" fill="#0b0d14" stroke="#0b0d14" stroke-width="0.3" font-weight="normal" text-anchor="start" textLength="79.55" lengthAdjust="spacingAndGlyphs">1,900.0</text>
<text transform="translate(1342.45,836.6) scale(1.0,1)" font-size="22" fill="#0b0d14" stroke="#0b0d14" stroke-width="0.3" font-weight="normal" text-anchor="start" textLength="79.55" lengthAdjust="spacingAndGlyphs">1,800.0</text>
<text transform="translate(87.57,947.7) scale(1.0,1)" font-size="22" fill="#0b0d14" stroke="#0b0d14" stroke-width="0.3" font-weight="normal" text-anchor="start" textLength="59.23" lengthAdjust="spacingAndGlyphs">12:00</text>
<text transform="translate(190.71,947.7) scale(1.0,1)" font-size="22" fill="#0b0d14" stroke="#0b0d14" stroke-width="0.3" font-weight="normal" text-anchor="start" textLength="58.70" lengthAdjust="spacingAndGlyphs">18:00</text>
<text transform="translate(316.32,947.7) scale(1.0,1)" font-size="22" fill="#0b0d14" stroke="#0b0d14" stroke-width="0" font-weight="bold" text-anchor="start" textLength="13.15" lengthAdjust="spacingAndGlyphs">8</text>
<text transform="translate(396.45,947.7) scale(1.0,1)" font-size="22" fill="#0b0d14" stroke="#0b0d14" stroke-width="0.3" font-weight="normal" text-anchor="start" textLength="59.42" lengthAdjust="spacingAndGlyphs">06:00</text>
<text transform="translate(499.57,947.7) scale(1.0,1)" font-size="22" fill="#0b0d14" stroke="#0b0d14" stroke-width="0.3" font-weight="normal" text-anchor="start" textLength="59.23" lengthAdjust="spacingAndGlyphs">12:00</text>
<text transform="translate(602.71,947.7) scale(1.0,1)" font-size="22" fill="#0b0d14" stroke="#0b0d14" stroke-width="0.3" font-weight="normal" text-anchor="start" textLength="58.70" lengthAdjust="spacingAndGlyphs">18:00</text>
<text transform="translate(727.56,947.7) scale(1.0,1)" font-size="22" fill="#0b0d14" stroke="#0b0d14" stroke-width="0" font-weight="bold" text-anchor="start" textLength="14.03" lengthAdjust="spacingAndGlyphs">9</text>
<text transform="translate(808.20,947.7) scale(1.0,1)" font-size="22" fill="#0b0d14" stroke="#0b0d14" stroke-width="0.3" font-weight="normal" text-anchor="start" textLength="59.11" lengthAdjust="spacingAndGlyphs">06:00</text>
<text transform="translate(911.66,947.7) scale(1.0,1)" font-size="22" fill="#0b0d14" stroke="#0b0d14" stroke-width="0.3" font-weight="normal" text-anchor="start" textLength="59.23" lengthAdjust="spacingAndGlyphs">12:00</text>
<text transform="translate(1014.71,947.7) scale(1.0,1)" font-size="22" fill="#0b0d14" stroke="#0b0d14" stroke-width="0.3" font-weight="normal" text-anchor="start" textLength="59.03" lengthAdjust="spacingAndGlyphs">18:00</text>
<text transform="translate(1133.37,947.7) scale(1.0,1)" font-size="22" fill="#0b0d14" stroke="#0b0d14" stroke-width="0" font-weight="bold" text-anchor="start" textLength="27.53" lengthAdjust="spacingAndGlyphs">10</text>
<text transform="translate(1220.58,947.7) scale(1.0,1)" font-size="22" fill="#0b0d14" stroke="#0b0d14" stroke-width="0.3" font-weight="normal" text-anchor="start" textLength="58.95" lengthAdjust="spacingAndGlyphs">06:00</text>
<text transform="translate(59.05,1003.6) scale(1.0,1)" font-size="23.2" fill="#0b0d14" stroke="#0b0d14" stroke-width="0.55" font-weight="normal" text-anchor="start" textLength="131.27" lengthAdjust="spacingAndGlyphs">TradingView</text>
<path d="M1231,256.3 H1327.8 V286 H1231 a3.2,3.2 0 0 1 -3.2,-3.2 V259.5 a3.2,3.2 0 0 1 3.2,-3.2z" fill="#089981"/>
<path d="M1330,256.3 H1427.8 a3.2,3.2 0 0 1 3.2,3.2 V282.8 a3.2,3.2 0 0 1 -3.2,3.2 H1330z" fill="#089981"/>
<text transform="translate(1233.85,277.7) scale(1.0,1)" font-size="21.5" fill="#fff" stroke="#fff" stroke-width="0" font-weight="normal" text-anchor="start" textLength="87.32" lengthAdjust="spacingAndGlyphs">ETHUSD</text>
<text transform="translate(1343.00,277.7) scale(1.0,1)" font-size="22" fill="#fff" stroke="#fff" stroke-width="0" font-weight="normal" text-anchor="start" textLength="76.87" lengthAdjust="spacingAndGlyphs">2,354.1</text>
<path d="M1330,884.2 H1362.9 a3,3 0 0 1 3,3 V910.8 a3,3 0 0 1 -3,3 H1330z" fill="#26a69a"/>
<text transform="translate(1342.80,906.3) scale(1.0,1)" font-size="22" fill="#fff" stroke="#fff" stroke-width="0" font-weight="normal" text-anchor="start" textLength="13.18" lengthAdjust="spacingAndGlyphs">3</text>
<g fill="#0b0d14">
<path d="M17.9,985.2 H31.2 V1001.9 H24.6 V991.8 H17.9z"/>
<circle cx="37.4" cy="989" r="3.8"/>
<path d="M45.2,985.2 H52.3 L44.9,1001.9 H37.9z"/>
</g>
</svg></body></html>
